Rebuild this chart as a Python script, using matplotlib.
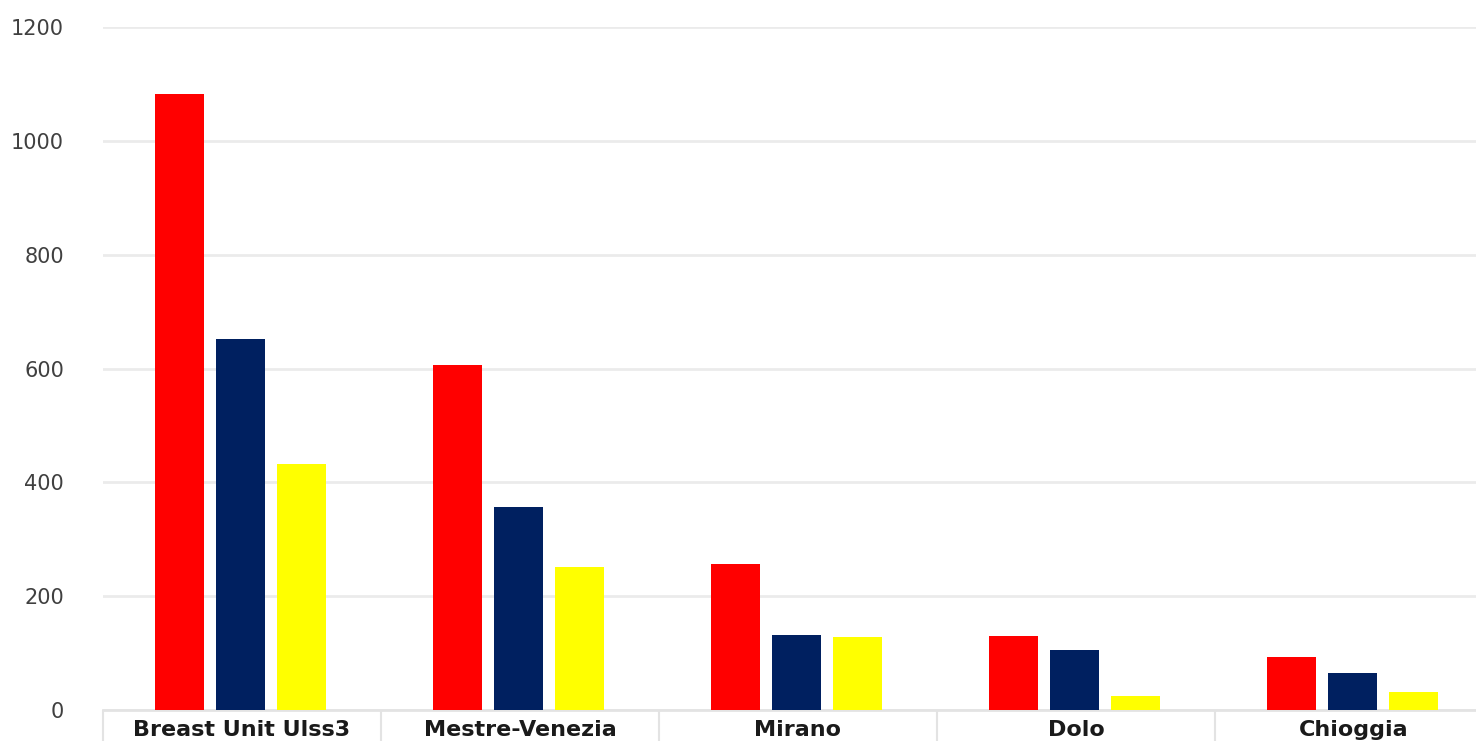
import numpy as np
import matplotlib.pyplot as plt

categories = ['Breast Unit Ulss3', 'Mestre-Venezia', 'Mirano', 'Dolo', 'Chioggia']
serie_rossa = [1082, 606, 257, 130, 93]
serie_blu = [652, 357, 132, 105, 65]
serie_gialla = [432, 251, 128, 25, 32]

cols = ['#ff0000', '#002060', '#ffff00']
yticks = [0, 200, 400, 600, 800, 1000, 1200]

fig = plt.figure(figsize=(14.76, 7.41), dpi=100)
ax = fig.add_axes([103/1476, 1 - 710/741, 1390/1476, 683/741])

x = np.arange(len(categories))
w = 0.176
step = 0.22
for i, vals in enumerate([serie_rossa, serie_blu, serie_gialla]):
  ax.bar(x - 0.006 + (i - 1)*step, vals, w, color=cols[i], zorder=3)

ax.set_xlim(-0.5, len(categories) - 0.5)
ax.set_ylim(0, 1200)
ax.set_yticks(yticks)
ax.yaxis.grid(True, color='#ebebeb', linewidth=2, zorder=0)

for s in ['top', 'right', 'left']:
  ax.spines[s].set_visible(False)
ax.spines['bottom'].set_color('#e3e3e3')
ax.spines['bottom'].set_linewidth(2)

ax.set_xticks(x)
ax.set_xticklabels(categories, fontsize=16, fontweight='bold', color='#1a1a1a')
ax.set_xticks(np.arange(len(categories) + 1) - 0.5, minor=True)
ax.tick_params(axis='x', which='major', length=0, pad=7)
ax.tick_params(axis='x', which='minor', length=40, color='#e3e3e3', width=1.5)
ax.tick_params(axis='y', length=0, pad=28, labelsize=15, labelcolor='#404040')

fig.savefig('out.png', dpi=100)
